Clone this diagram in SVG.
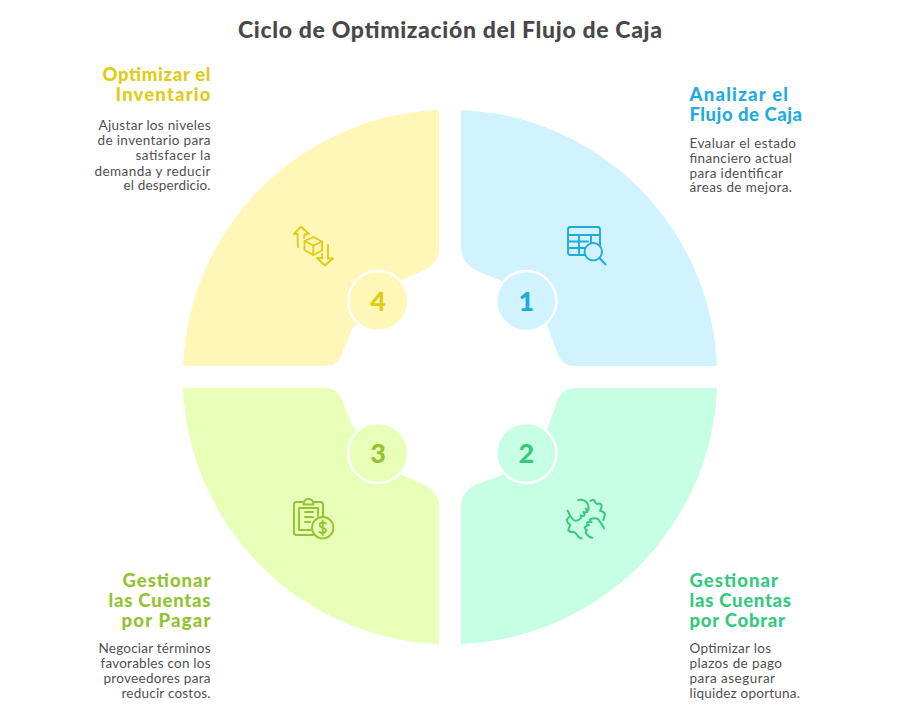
<svg xmlns="http://www.w3.org/2000/svg" width="900" height="721" viewBox="0 0 900 721">
<style>
text{font-family:"Lato","Open Sans","Liberation Sans",sans-serif}
.t{font-size:23px;font-weight:900;fill:#484848}
.h{font-size:18.500px;font-weight:900}
.b{font-size:13.500px;fill:#505050}
.e{text-anchor:end}
.n{font-size:27px;font-weight:900;text-anchor:middle}
.i{fill:none;stroke-width:1.900;stroke-linecap:round;stroke-linejoin:round}
.y{fill:#fff7b8}.yt{fill:#e0cb15}.ys{stroke:#e0cb15}
.u{fill:#d1f3ff}.ut{fill:#1fabdc}.us{stroke:#1fabdc}
.g{fill:#c7ffe4}.gt{fill:#37c87f}.gs{stroke:#37c87f}
.l{fill:#e8ffb8}.lt{fill:#93c332}.ls{stroke:#93c332}
.r{stroke:#fff;stroke-width:2.400}
</style>
<rect width="900" height="721" fill="#fff"/>
<text class="t" x="238" y="38" textLength="424" lengthAdjust="spacing">Ciclo de Optimización del Flujo de Caja</text>

<g id="node-1">
<path class="u" d="M461 110A267 267 0 0 1 717 366H575Q560 366 555.500 348L547 325L526 300L502 281L480 272Q461 265 461 246Z"/>
<circle class="u r" cx="526.300" cy="301" r="30"/>
<text class="n ut" x="526.300" y="311">1</text>
<g class="i us">
<rect x="568" y="227" width="32" height="28" rx="2.500"/>
<path d="M568 235H600M568 241.500H588M568 248H585M579 235V255M591 235V243"/>
<circle cx="593.300" cy="251.700" r="8.700" fill="#d1f3ff"/>
<path d="M599.500 258L605.500 264.500"/>
</g>
<text class="h ut" x="689.500" y="101" textLength="98.500" lengthAdjust="spacing">Analizar el</text>
<text class="h ut" x="689.500" y="121" textLength="112.500" lengthAdjust="spacing">Flujo de Caja</text>
<text class="b" x="689.500" y="148" textLength="106.500" lengthAdjust="spacing">Evaluar el estado</text>
<text class="b" x="689.500" y="163" textLength="102.500" lengthAdjust="spacing">financiero actual</text>
<text class="b" x="689.500" y="177.500" textLength="93.500" lengthAdjust="spacing">para identificar</text>
<text class="b" x="689.500" y="192" textLength="102.500" lengthAdjust="spacing">áreas de mejora.</text>
</g>

<g id="node-2">
<path class="g" d="M717 388A267 267 0 0 1 461 644V505Q461 490 480 483L502 475L526 453L547 430L555.500 406Q560 388 575 388Z"/>
<circle class="g r" cx="526.300" cy="453" r="30"/>
<text class="n gt" x="526.300" y="463">2</text>
<g fill="none" class="gs" stroke-width="6" stroke-linecap="round" stroke-linejoin="round" transform="translate(555 490) scale(.3333)">
<path d="M70 30Q88 27 97 40Q103 50 100 60Q96 58 92 56Q98 62 97 66Q90 68 85 66Q90 72 88 77Q82 79 77 76Q80 82 76 86Q66 96 56 90Q48 84 38 62"/>
<path d="M107 33Q113 27 118 31Q120 40 126 42Q136 38 140 46Q140 54 135 62Q146 64 150 72Q148 82 145 90"/>
<path d="M80 145Q74 146 70 140Q62 128 55 125Q44 128 40 120Q42 112 46 105Q36 98 35 90Q38 84 45 80"/>
<path d="M147 115Q138 98 130 88Q120 82 105 88Q104 94 110 96Q102 94 96 98Q96 104 102 106Q94 106 89 112Q90 118 96 120Q88 128 96 134Q102 142 112 143"/>
</g>
<text class="h gt" x="689.500" y="587" textLength="88.500" lengthAdjust="spacing">Gestionar</text>
<text class="h gt" x="689.500" y="607" textLength="101.500" lengthAdjust="spacing">las Cuentas</text>
<text class="h gt" x="689.500" y="627" textLength="95.500" lengthAdjust="spacing">por Cobrar</text>
<text class="b" x="689.500" y="653" textLength="81.500" lengthAdjust="spacing">Optimizar los</text>
<text class="b" x="689.500" y="668" textLength="92.500" lengthAdjust="spacing">plazos de pago</text>
<text class="b" x="689.500" y="682.500" textLength="85.500" lengthAdjust="spacing">para asegurar</text>
<text class="b" x="689.500" y="698" textLength="110.500" lengthAdjust="spacing">liquidez oportuna.</text>
</g>

<g id="node-3">
<path class="l" d="M183 388A267 267 0 0 0 439 644V507Q439 490 420 483L402 475L378 453L352 425L344 406Q340 388 325 388Z"/>
<circle class="l r" cx="378" cy="453" r="30"/>
<text class="n lt" x="378" y="463">3</text>
<g class="i ls">
<path d="M304 502H296.500Q294 502 294 504.500V533Q294 535 296.500 535H313M313 502H320.500Q323 502 323 504.500V516.500"/>
<path d="M304 502Q305 499 308.500 499Q312 499 313 502L313.500 504.500H303.500Z"/>
<path d="M299 509V530H311M318 508V516M299 508H318"/>
<path d="M305 512H313M305 517H313M305 522H310"/>
<circle cx="322.700" cy="527.700" r="10.700"/>
<path d="M326 523.500Q322.500 521.500 320 523.500Q318.500 526.500 322.700 527.700Q327 529 325.500 532Q322.500 534 319.500 532M322.700 520.500V535"/>
</g>
<text class="h lt e" x="210.500" y="587" textLength="88" lengthAdjust="spacing">Gestionar</text>
<text class="h lt e" x="210.500" y="607" textLength="102" lengthAdjust="spacing">las Cuentas</text>
<text class="h lt e" x="210.500" y="627" textLength="89" lengthAdjust="spacing">por Pagar</text>
<text class="b e" x="210.500" y="653" textLength="112" lengthAdjust="spacing">Negociar términos</text>
<text class="b e" x="210.500" y="668" textLength="110" lengthAdjust="spacing">favorables con los</text>
<text class="b e" x="210.500" y="682.500" textLength="107" lengthAdjust="spacing">proveedores para</text>
<text class="b e" x="210.500" y="698" textLength="89" lengthAdjust="spacing">reducir costos.</text>
</g>

<g id="node-4">
<path class="y" d="M439 110A267 267 0 0 0 183 366H325Q340 366 344 348L352 329L378 301L402 280L420 272Q439 265 439 248Z"/>
<circle class="y r" cx="378" cy="301" r="30"/>
<text class="n yt" x="378" y="311">4</text>
<g class="i ys">
<path d="M298 247L297.500 234H294L301 226.700L309 234L304.500 234.500L304 238"/>
<path d="M313.300 237L322 241.500V250.500L313.300 255L304.500 250V241Z"/>
<path d="M304.500 241L313.300 245.500L322 241.500M313.300 245.500V255"/>
<path d="M328 245V258.500H333L325 265.500L317 258H322.500L322 254"/>
</g>
<text class="h yt e" x="210.500" y="81" textLength="108" lengthAdjust="spacing">Optimizar el</text>
<text class="h yt e" x="210.500" y="101" textLength="95" lengthAdjust="spacing">Inventario</text>
<text class="b e" x="210.500" y="130" textLength="112" lengthAdjust="spacing">Ajustar los niveles</text>
<text class="b e" x="210.500" y="145" textLength="113" lengthAdjust="spacing">de inventario para</text>
<text class="b e" x="210.500" y="160" textLength="75" lengthAdjust="spacing">satisfacer la</text>
<text class="b e" x="210.500" y="175.500" textLength="116" lengthAdjust="spacing">demanda y reducir</text>
<text class="b e" x="210.500" y="190" textLength="87" lengthAdjust="spacing">el desperdicio.</text>
</g>
</svg>
